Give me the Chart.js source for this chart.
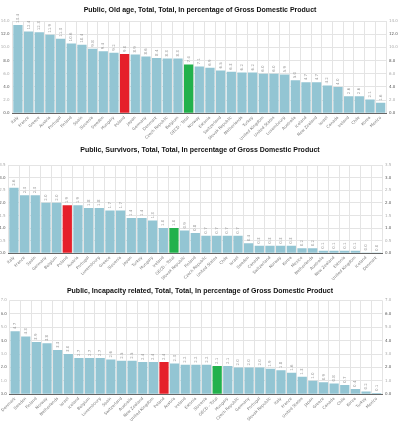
<!DOCTYPE html>
<html>
<head>
<meta charset="utf-8">
<script src="https://cdn.jsdelivr.net/npm/chart.js@4"></script>
<style>
  body { margin: 0; background: #fff; }
  .box { position: absolute; left: 0; width: 400px; height: 141px; }
</style>
</head>
<body>
<div class="box" style="top:0"><canvas id="c1"></canvas></div>
<div class="box" style="top:141px"><canvas id="c2"></canvas></div>
<div class="box" style="top:282px"><canvas id="c3"></canvas></div>
<script>
// data
const oldAgeCountries = ['Italy', 'France', 'Greece', 'Austria', 'Portugal', 'Finland', 'Spain', 'Slovenia',
  'Sweden', 'Hungary', 'Poland', 'Japan', 'Germany', 'Denmark', 'Czech Republic', 'Belgium', 'OECD - Total',
  'Norway', 'Estonia', 'Switzerland', 'Slovak Republic', 'Netherlands', 'Turkey', 'United Kingdom',
  'United States', 'Luxembourg', 'Australia', 'Iceland', 'New Zealand', 'Israel', 'Canada', 'Ireland',
  'Chile', 'Korea', 'Mexico'];
const oldAgeValues = [13.4, 12.4, 12.3, 11.9, 11.3, 10.6, 10.4, 9.8, 9.4, 9.2, 9.0, 8.9, 8.6, 8.4, 8.3, 8.3, 7.4,
  7.1, 6.9, 6.5, 6.3, 6.2, 6.2, 6.0, 6.0, 5.9, 5.0, 4.7, 4.7, 4.2, 4.0, 2.6, 2.6, 2.1, 1.6];

const survivorsCountries = ['Italy', 'France', 'Spain', 'Germany', 'Belgium', 'Poland', 'Austria', 'Portugal',
  'Luxembourg', 'Greece', 'Slovenia', 'Japan', 'Turkey', 'Hungary', 'Ireland', 'OECD - Total',
  'Slovak Republic', 'Finland', 'Czech Republic', 'United States', 'Chile', 'Israel', 'Sweden', 'Canada',
  'Switzerland', 'Norway', 'Korea', 'Mexico', 'Netherlands', 'Australia', 'New Zealand', 'Estonia',
  'United Kingdom', 'Iceland', 'Denmark'];
const survivorsValues = [2.6, 2.3, 2.3, 2.0, 2.0, 1.9, 1.9, 1.8, 1.8, 1.7, 1.7, 1.4, 1.4, 1.3, 1.0, 1.0,
  0.9, 0.8, 0.7, 0.7, 0.7, 0.7, 0.4, 0.3, 0.3, 0.3, 0.3, 0.2, 0.2, 0.1, 0.1, 0.1, 0.1, 0.03, 0.01];

const incapacityCountries = ['Denmark', 'Sweden', 'Finland', 'Norway', 'Netherlands', 'Israel', 'Iceland',
  'Belgium', 'Luxembourg', 'Spain', 'Switzerland', 'Australia', 'New Zealand', 'United Kingdom', 'Poland',
  'Austria', 'Ireland', 'Estonia', 'Slovenia', 'OECD - Total', 'Hungary', 'Czech Republic', 'Germany',
  'Portugal', 'Slovak Republic', 'Italy', 'France', 'United States', 'Japan', 'Greece', 'Canada', 'Chile',
  'Korea', 'Turkey', 'Mexico'];
const incapacityValues = [4.7, 4.3, 3.9, 3.8, 3.3, 3.0, 2.7, 2.7, 2.7, 2.6, 2.5, 2.5, 2.4, 2.4, 2.4,
  2.3, 2.2, 2.2, 2.2, 2.1, 2.1, 2.0, 2.0, 2.0, 1.9, 1.8, 1.6, 1.3, 1.0, 0.9, 0.8, 0.7, 0.4, 0.2, 0.1];

const oldAgeTicks = { max: 14, step: 2 };
const survivorsTicks = { max: 3.5, step: 0.5 };
const incapacityTicks = { max: 7, step: 1 };

const BLUE = '#93c5d3', RED = '#e5202a', GREEN = '#22b14c';

function barColor(name) {
  if (name === 'Poland') return RED;
  if (name === 'OECD - Total') return GREEN;
  return BLUE;
}

const valueLabels = {
  id: 'valueLabels',
  afterDatasetsDraw(chart) {
    const ctx = chart.ctx;
    const vals = chart.data.datasets[0].data;
    ctx.save();
    ctx.font = '4px "DejaVu Sans"';
    ctx.fillStyle = '#999';
    ctx.textAlign = 'left';
    ctx.textBaseline = 'middle';
    chart.getDatasetMeta(0).data.forEach((bar, i) => {
      ctx.save();
      ctx.translate(bar.x, bar.y - 2);
      ctx.rotate(-Math.PI / 2);
      ctx.fillText(vals[i].toFixed(1), 0, 0);
      ctx.restore();
    });
    ctx.restore();
  }
};

function makeChart(id, title, labels, values, ticks, lay) {
  const tickFont = { family: 'DejaVu Sans', size: 4 };
  const yTicks = {
    stepSize: ticks.step,
    padding: 3,
    font: tickFont,
    color: c => c.index % 2 === 0 ? '#555' : '#aaa',
    callback: v => v.toFixed(1)
  };
  return new Chart(document.getElementById(id), {
    type: 'bar',
    data: {
      labels: labels,
      datasets: [{
        data: values,
        backgroundColor: labels.map(barColor),
        barPercentage: 0.87,
        categoryPercentage: 1
      }]
    },
    options: {
      responsive: true,
      maintainAspectRatio: false,
      animation: false,
      layout: { padding: 0 },
      plugins: {
        legend: { display: false },
        tooltip: { enabled: false },
        title: {
          display: true,
          text: title,
          color: '#111',
          font: { family: 'Liberation Sans', weight: 'bold', size: 7 },
          padding: { top: lay.titleTop, bottom: lay.titleBottom }
        }
      },
      scales: {
        x: {
          grid: { color: '#e4e4e4', tickLength: 0 },
          border: { color: '#666' },
          ticks: { font: tickFont, color: '#777', minRotation: 45, maxRotation: 45, autoSkip: false, padding: 2 },
          afterFit: s => { s.height = lay.xHeight; }
        },
        y: {
          min: 0, max: ticks.max,
          grid: { color: '#e4e4e4', tickLength: 0 },
          border: { display: false },
          ticks: yTicks,
          afterFit: s => { s.width = lay.left; }
        },
        y2: {
          position: 'right',
          min: 0, max: ticks.max,
          grid: { drawOnChartArea: false, tickLength: 0 },
          border: { display: false },
          ticks: yTicks,
          afterFit: s => { s.width = lay.right; }
        }
      }
    },
    plugins: [valueLabels]
  });
}

makeChart('c1', 'Public, Old age, Total, Total, In percentage of Gross Domestic Product',
  oldAgeCountries, oldAgeValues, oldAgeTicks,
  { titleTop: 5.8, titleBottom: 6.8, xHeight: 27.7, left: 12.6, right: 14 });
makeChart('c2', 'Public, Survivors, Total, Total, In percentage of Gross Domestic Product',
  survivorsCountries, survivorsValues, survivorsTicks,
  { titleTop: 4.8, titleBottom: 10.8, xHeight: 28.7, left: 8.6, right: 18 });
makeChart('c3', 'Public, Incapacity related, Total, Total, In percentage of Gross Domestic Product',
  incapacityCountries, incapacityValues, incapacityTicks,
  { titleTop: 5, titleBottom: 4.9, xHeight: 28.7, left: 8.6, right: 18 });
</script>
</body>
</html>
